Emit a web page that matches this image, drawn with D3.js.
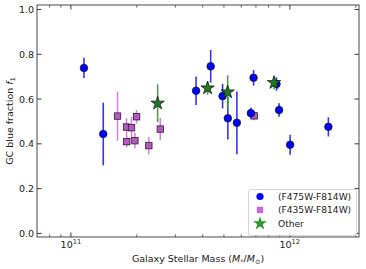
<!DOCTYPE html>
<html>
<head>
<meta charset="utf-8">
<script src="https://cdn.jsdelivr.net/npm/d3@7"></script>
<style>
body { margin: 0; background: #fff; }
text { font-family: "DejaVu Sans", sans-serif; }
</style>
</head>
<body>
<svg width="366" height="269"></svg>
<script>
// blue: (F475W-F814W)
var blueMass = [1.147e11, 1.405e11, 3.73e11, 4.35e11, 4.93e11, 5.21e11, 5.73e11, 6.83e11, 6.64e11, 8.69e11, 8.93e11, 1.003e12, 1.50e12];
var blueF1   = [0.739, 0.444, 0.637, 0.746, 0.613, 0.514, 0.494, 0.695, 0.537, 0.667, 0.551, 0.396, 0.476];
var blueErr  = [0.045, 0.14, 0.064, 0.073, 0.055, 0.095, 0.14, 0.035, 0.025, 0.03, 0.03, 0.045, 0.043];
// purple: (F435W-F814W)
var purpMass = [1.633e11, 1.795e11, 1.892e11, 1.995e11, 1.80e11, 1.96e11, 2.27e11, 2.56e11, 6.87e11];
var purpF1   = [0.524, 0.475, 0.472, 0.521, 0.41, 0.414, 0.392, 0.466, 0.525];
var purpErr  = [0.11, 0.04, 0.05, 0.03, 0.025, 0.035, 0.04, 0.05, 0.02];
// green: other
var grnMass = [2.49e11, 4.21e11, 5.20e11, 8.47e11];
var grnF1   = [0.581, 0.649, 0.631, 0.673];
var grnErr  = [0.085, 0.03, 0.075, 0.03];

var yTicks = [0, 0.2, 0.4, 0.6, 0.8, 1.0];
var legendLabels = ["(F475W-F814W)", "(F435W-F814W)", "Other"];

var pL = 37, pR = 359, pT = 5, pB = 237;
var svg = d3.select("svg");

var x = d3.scaleLog().domain([7.0e10, 2.07e12]).range([pL, pR]);
var y = d3.scaleLinear().domain([-0.016, 1.02]).range([pB, pT]);

var minors = [];
[1e10, 1e11, 1e12].forEach(function(d) {
  for (var k = 2; k <= 9; k++) {
    var v = d * k;
    if (v > 7.0e10 && v < 2.07e12) minors.push(v);
  }
});
var majors = [1e11, 1e12];

var frame = svg.append("g");
// ticks, inward on all sides
function xticks(yy, dir) {
  frame.selectAll(null).data(majors).enter().append("line")
    .attr("x1", d => x(d)).attr("x2", d => x(d))
    .attr("y1", yy).attr("y2", yy + dir * 4.5)
    .attr("stroke", "#222").attr("stroke-width", 0.9);
  frame.selectAll(null).data(minors).enter().append("line")
    .attr("x1", d => x(d)).attr("x2", d => x(d))
    .attr("y1", yy).attr("y2", yy + dir * 2.6)
    .attr("stroke", "#222").attr("stroke-width", 0.7);
}
xticks(pB, -1);
xticks(pT, 1);
[pL, pR].forEach(function(xx, i) {
  var dir = i === 0 ? 1 : -1;
  frame.selectAll(null).data(yTicks).enter().append("line")
    .attr("x1", xx).attr("x2", xx + dir * 4.5)
    .attr("y1", d => y(d)).attr("y2", d => y(d))
    .attr("stroke", "#222").attr("stroke-width", 0.9);
});

frame.selectAll(null).data(yTicks).enter().append("text")
  .attr("x", pL - 3).attr("y", d => y(d) + 3.5)
  .attr("text-anchor", "end").attr("font-size", 9.5).attr("fill", "#222")
  .text(d => d.toFixed(1));

majors.forEach(function(d) {
  var t = frame.append("text").attr("x", x(d)).attr("y", pB + 11)
    .attr("text-anchor", "middle").attr("font-size", 9.5).attr("fill", "#222");
  t.append("tspan").text("10");
  t.append("tspan").attr("font-size", 6.7).attr("dy", -4).text(Math.log10(d));
});

// axis labels
svg.append("text").attr("x", (pL + pR) / 2).attr("y", 262)
  .attr("text-anchor", "middle").attr("font-size", 9.5).attr("fill", "#222")
  .html('Galaxy Stellar Mass (<tspan font-style="italic">M</tspan><tspan font-size="6.5" dy="2">*</tspan><tspan dy="-2">/</tspan><tspan font-style="italic">M</tspan><tspan font-size="6.5" dy="2">⊙</tspan><tspan dy="-2">)</tspan>');
svg.append("text").attr("transform", "translate(13," + ((pT + pB) / 2) + ") rotate(-90)")
  .attr("text-anchor", "middle").attr("font-size", 9.5).attr("fill", "#222")
  .html('GC blue fraction <tspan font-style="italic">f</tspan><tspan font-size="6.5" dy="2">1</tspan>');

var plot = svg.append("g");

function errbars(mass, f, err, color, opacity) {
  plot.selectAll(null).data(mass).enter().append("line")
    .attr("x1", d => x(d)).attr("x2", d => x(d))
    .attr("y1", (d, i) => y(f[i] - err[i])).attr("y2", (d, i) => y(f[i] + err[i]))
    .attr("stroke", color).attr("stroke-width", 1.6).attr("opacity", opacity);
}

var starPath = d3.symbol().type(d3.symbolStar).size(56)();

// purple
errbars(purpMass, purpF1, purpErr, "#cc66dd", 0.8);
plot.selectAll(null).data(purpMass).enter().append("rect")
  .attr("x", d => x(d) - 3.2).attr("y", (d, i) => y(purpF1[i]) - 3.2)
  .attr("width", 6.4).attr("height", 6.4)
  .attr("fill", "#bb55cc").attr("stroke", "#222").attr("stroke-width", 0.8);

// blue
errbars(blueMass, blueF1, blueErr, "#1f1fff", 0.9);
plot.selectAll(null).data(blueMass).enter().append("circle")
  .attr("cx", d => x(d)).attr("cy", (d, i) => y(blueF1[i])).attr("r", 3.8)
  .attr("fill", "#0000ff").attr("stroke", "#111").attr("stroke-width", 0.7);

// green
errbars(grnMass, grnF1, grnErr, "#3a9a3a", 0.9);
plot.selectAll(null).data(grnMass).enter().append("path")
  .attr("d", starPath)
  .attr("transform", (d, i) => "translate(" + x(d) + "," + y(grnF1[i]) + ")")
  .attr("fill", "#1f7a1f").attr("stroke", "#111").attr("stroke-width", 0.7);

// frame spines
svg.append("rect").attr("x", pL).attr("y", pT)
  .attr("width", pR - pL).attr("height", pB - pT)
  .attr("fill", "none").attr("stroke", "#333").attr("stroke-width", 0.9);

// legend
var lg = svg.append("g");
lg.append("rect").attr("x", 248.5).attr("y", 189.5).attr("width", 108).attr("height", 46)
  .attr("rx", 2).attr("fill", "#fff").attr("fill-opacity", 0.85)
  .attr("stroke", "#ccc").attr("stroke-width", 0.8);
var rowY = [196.5, 210, 223.5];
lg.append("circle").attr("cx", 260).attr("cy", rowY[0]).attr("r", 3.6).attr("fill", "#0000ff");
lg.append("rect").attr("x", 256.8).attr("y", rowY[1] - 3.2).attr("width", 6.4).attr("height", 6.4)
  .attr("fill", "#c865dc");
lg.append("path").attr("d", d3.symbol().type(d3.symbolStar).size(60)())
  .attr("transform", "translate(260," + rowY[2] + ")").attr("fill", "#2a9a2a");
lg.selectAll(null).data(legendLabels).enter().append("text")
  .attr("x", 278).attr("y", (d, i) => rowY[i] + 3.3)
  .attr("font-size", 9.1).attr("fill", "#222").text(d => d);
</script>
</body>
</html>
